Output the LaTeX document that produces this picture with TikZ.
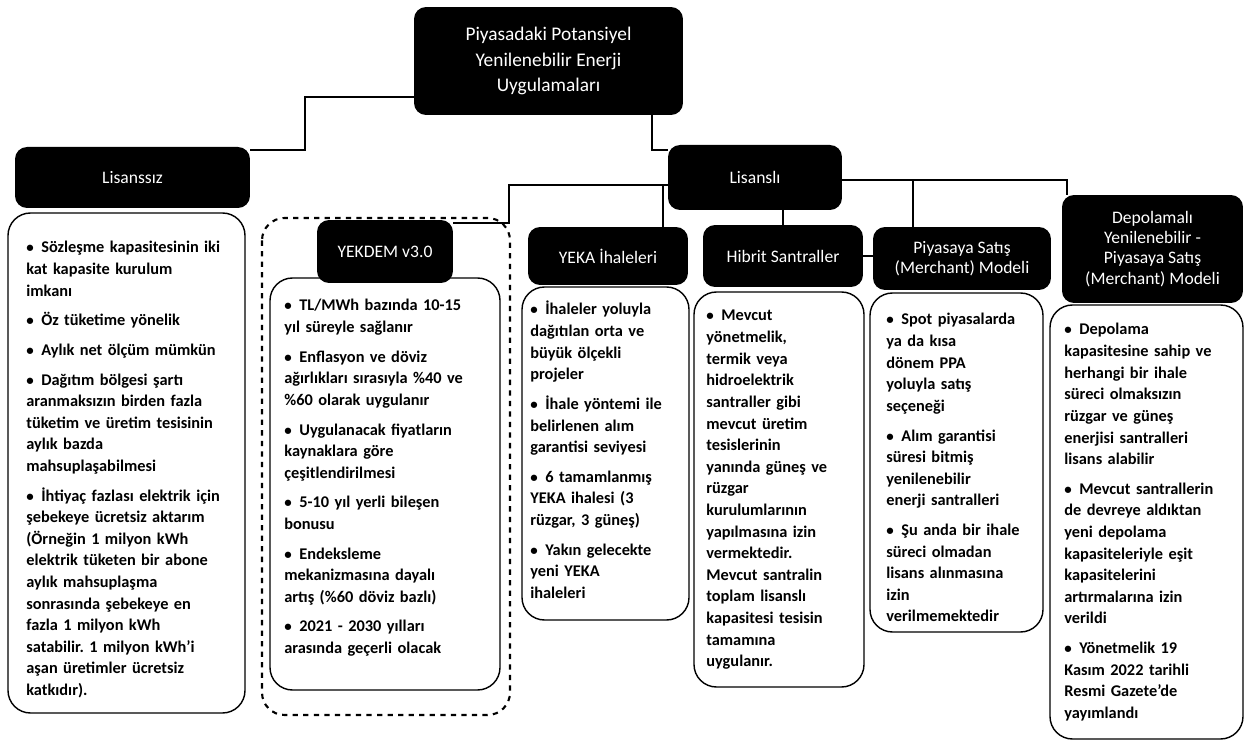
\documentclass[tikz,border=0pt]{standalone}
\usepackage{fontspec}
\setmainfont{Carlito}
\usetikzlibrary{positioning}

\newcommand{\bitem}[1]{\par\hangindent=0.3cm\hangafter=1\noindent\makebox[0.3cm][l]{\fontsize{8.5}{8.5}\selectfont\textbullet}#1\par\vspace{0.16cm}}

\tikzset{
  labelbox/.style={fill=black, rounded corners=0.24cm, text=white, align=center,
    inner sep=0pt, font=\fontsize{10}{11.5}\selectfont},
  conn/.style={line width=1pt},
  cbox/.style={draw, rounded corners=0.45cm, line width=0.8pt},
  ctext/.style={anchor=north west, align=left, inner sep=0pt,
    font=\bfseries\frenchspacing\fontsize{9.3}{12.3}\selectfont}
}

\begin{document}
\begin{tikzpicture}[x=0.02cm, y=-0.02cm]
  \useasboundingbox (0,0) rectangle (1247,742);

  % header boxes
  \node[labelbox, minimum width=5.38cm, minimum height=2.16cm,
    font=\fontsize{11}{14.5}\selectfont] (top) at (548.5,61)
    {Piyasadaki Potansiyel\\Yenilenebilir Enerji\\Uygulamaları};
  \node[labelbox, minimum width=4.7cm, minimum height=1.22cm] (lsz) at (132.5,177.5) {Lisanssız};
  \node[labelbox, minimum width=3.48cm, minimum height=1.3cm] (lsl) at (755,177.5) {Lisanslı};

  % content boxes
  \draw[cbox] (8,213) rectangle (245,713);
  \draw[cbox, dashed, line width=1.2pt] (262,218) rectangle (510,715);
  \draw[cbox] (270,278) rectangle (500,690);
  \draw[cbox] (522,287) rectangle (689,620);
  \draw[cbox] (694,292) rectangle (864,687);
  \draw[cbox] (870,293) rectangle (1043,632);
  \draw[cbox] (1050,305) rectangle (1243,739);

  \node[labelbox, minimum width=2.72cm, minimum height=1.26cm] (yekdem) at (385,251.5) {YEKDEM v3.0};
  \node[labelbox, minimum width=3.2cm, minimum height=1.16cm] (yeka) at (608,256) {YEKA İhaleleri};
  \node[labelbox, minimum width=3.2cm, minimum height=1.24cm] (hib) at (783,256) {Hibrit Santraller};
  \node[labelbox, minimum width=3.56cm, minimum height=1.26cm] (pys) at (962,258.5)
    {Piyasaya Satış\\(Merchant) Modeli};
  \node[labelbox, minimum width=3.62cm, minimum height=2.16cm] (depo) at (1152.5,249)
    {Depolamalı\\Yenilenebilir -\\Piyasaya Satış\\(Merchant) Modeli};

  % connectors
  \coordinate (ka) at (305,97);
  \coordinate (kb) at (305,150);
  \draw[conn] (top.west |- ka) -- (ka) -- (kb) -- (lsz.east |- kb);
  \coordinate (kc) at (652,150);
  \draw[conn] (top.south -| kc) -- (kc) -- (lsl.west |- kc);
  \coordinate (kd) at (509,185);
  \coordinate (ke) at (509,223);
  \draw[conn] (lsl.west |- kd) -- (kd) -- (ke) -- (yekdem.east |- ke);
  \coordinate (kf) at (663,185);
  \draw[conn] (kf) -- (kf |- yeka.north);
  \draw[conn] (lsl.south -| hib.north) -- (hib.north);
  \coordinate (kg) at (1067,180);
  \coordinate (kh) at (913,180);
  \draw[conn] (lsl.east |- kg) -- (kg) -- (kg |- depo.north);
  \draw[conn] (kh) -- (kh |- pys.north);
  \draw[conn] (hib.east) -- (hib.east -| pys.west);

  % texts
  \node[ctext, text width=4.4cm] (lszT) at (26,231) {%
    \bitem{Sözleşme kapasitesinin iki\\kat kapasite kurulum\\imkanı}
    \bitem{Öz tüketime yönelik}
    \bitem{Aylık net ölçüm mümkün}
    \bitem{Dağıtım bölgesi şartı\\aranmaksızın birden fazla\\tüketim ve üretim tesisinin\\aylık bazda\\mahsuplaşabilmesi}
    \bitem{İhtiyaç fazlası elektrik için\\şebekeye ücretsiz aktarım\\(Örneğin 1 milyon kWh\\elektrik tüketen bir abone\\aylık mahsuplaşma\\sonrasında şebekeye en\\fazla 1 milyon kWh\\satabilir. 1 milyon kWh'i\\aşan üretimler ücretsiz\\katkıdır).}};
  \node[ctext, text width=4.4cm] (yekdemT) at (284,289) {%
    \bitem{TL/MWh bazında 10-15\\yıl süreyle sağlanır}
    \bitem{Enflasyon ve döviz\\ağırlıkları sırasıyla \%40 ve\\\%60 olarak uygulanır}
    \bitem{Uygulanacak fiyatların\\kaynaklara göre\\çeşitlendirilmesi}
    \bitem{5-10 yıl yerli bileşen\\bonusu}
    \bitem{Endeksleme\\mekanizmasına dayalı\\artış (\%60 döviz bazlı)}
    \bitem{2021 - 2030 yılları\\arasında geçerli olacak}};
  \node[ctext, text width=3.2cm] (yekaT) at (530,293) {%
    \bitem{İhaleler yoluyla\\dağıtılan orta ve\\büyük ölçekli\\projeler}
    \bitem{İhale yöntemi ile\\belirlenen alım\\garantisi seviyesi}
    \bitem{6 tamamlanmış\\YEKA ihalesi (3\\rüzgar, 3 güneş)}
    \bitem{Yakın gelecekte\\yeni YEKA\\ihaleleri}};
  \node[ctext, text width=3.1cm] (hibT) at (706,299) {%
    \bitem{Mevcut\\yönetmelik,\\termik veya\\hidroelektrik\\santraller gibi\\mevcut üretim\\tesislerinin\\yanında güneş ve\\rüzgar\\kurulumlarının\\yapılmasına izin\\vermektedir.\\Mevcut santralin\\toplam lisanslı\\kapasitesi tesisin\\tamamına\\uygulanır.}};
  \node[ctext, text width=3.2cm] (pysT) at (886,303) {%
    \bitem{Spot piyasalarda\\ya da kısa\\dönem PPA\\yoluyla satış\\seçeneği}
    \bitem{Alım garantisi\\süresi bitmiş\\yenilenebilir\\enerji santralleri}
    \bitem{Şu anda bir ihale\\süreci olmadan\\lisans alınmasına\\izin\\verilmemektedir}};
  \node[ctext, text width=3.6cm] (depoT) at (1064,313) {%
    \bitem{Depolama\\kapasitesine sahip ve\\herhangi bir ihale\\süreci olmaksızın\\rüzgar ve güneş\\enerjisi santralleri\\lisans alabilir}
    \bitem{Mevcut santrallerin\\de devreye aldıktan\\yeni depolama\\kapasiteleriyle eşit\\kapasitelerini\\artırmalarına izin\\verildi}
    \bitem{Yönetmelik 19\\Kasım 2022 tarihli\\Resmi Gazete'de\\yayımlandı}};
\end{tikzpicture}
\end{document}
